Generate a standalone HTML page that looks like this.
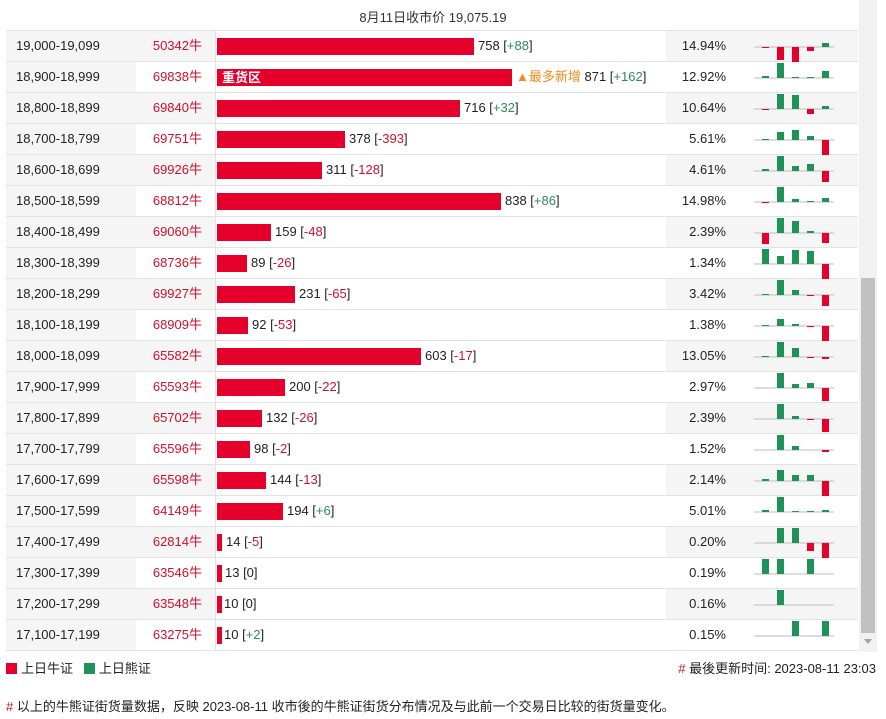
<!DOCTYPE html>
<html><head><meta charset="utf-8"><style>
*{margin:0;padding:0;box-sizing:border-box}
body{width:886px;height:719px;background:#fff;font-family:"Liberation Sans","Noto Sans CJK SC",sans-serif;font-size:13px;color:#222;position:relative;overflow:hidden}
.hdr{position:absolute;top:7px;left:0;width:866px;text-align:center;font-size:13px;color:#333}
.tbl{position:absolute;left:6px;top:30px;width:852px;border-top:1px solid #e3e3e3}
.r{position:relative;height:31px;border-bottom:1px solid #e3e3e3}
.r.o{background:#f5f5f5}
.rg{position:absolute;left:0;top:0;width:130px;height:30px;background:#f5f5f5;padding-left:10px;line-height:30px}
.ct{position:absolute;left:130px;top:0;width:66px;height:30px;text-align:right;line-height:30px;color:#d0102e}
.bc{position:absolute;left:209px;top:0;width:451px;height:30px;background:#fff;border-left:1px solid #e3e3e3}
.bar{position:absolute;left:1px;top:7px;height:17px;background:#e4002b;color:#fff;font-weight:bold;font-size:13px;line-height:17px;padding-left:5px}
.lb{position:absolute;top:0;line-height:30px;white-space:nowrap}
.g{color:#2e8b57}.d{color:#d0102e}
.pc{position:absolute;left:640px;width:80px;text-align:right;line-height:30px;top:0}
.r svg{position:absolute;left:748px;top:0;overflow:visible}
.sb{position:absolute;left:859px;top:0;width:18px;height:652px;background:#f1f1f1}
.th{position:absolute;left:861px;top:278px;width:14px;height:355px;background:#c1c1c1}
.ar{position:absolute;left:864px;top:639px;width:0;height:0;border-left:4px solid transparent;border-right:4px solid transparent;border-top:5px solid #a3a3a3}
.leg{position:absolute;top:658px;left:6px;font-size:13px}
.sq{display:inline-block;width:11px;height:11px;vertical-align:-1px;margin-right:4px}
.upd{position:absolute;top:658px;right:10px;font-size:13px}
.note{position:absolute;top:696px;left:6px;font-size:13px}
</style></head><body>
<div class="hdr">8月11日收市价 19,075.19</div>
<div class="sb"></div><div class="th"></div><div class="ar"></div>
<div class="tbl">
<div class="r o"><div class="rg">19,000-19,099</div><div class="ct">50342牛</div><div class="bc"><div class="bar" style="width:257px"></div><div class="lb" style="left:262px">758 [<span class="g">+88</span>]</div></div><div class="pc">14.94%</div>
<svg width="82" height="31"><line x1="0" y1="16" x2="80" y2="16" stroke="#bbb"/><rect x="8" y="16" width="7" height="1" fill="#e4002b"/><rect x="23" y="16" width="7" height="13" fill="#e4002b"/><rect x="38" y="16" width="7" height="15" fill="#e4002b"/><rect x="53" y="16" width="7" height="4" fill="#e4002b"/><rect x="68" y="12" width="7" height="4" fill="#1e9257"/></svg></div>
<div class="r"><div class="rg">18,900-18,999</div><div class="ct">69838牛</div><div class="bc"><div class="bar" style="width:295px">重货区</div><div class="lb" style="left:300px"><span style="color:#f08c1e">▲最多新增</span> 871 [<span class="g">+162</span>]</div></div><div class="pc">12.92%</div>
<svg width="82" height="31"><line x1="0" y1="16" x2="80" y2="16" stroke="#bbb"/><rect x="8" y="14" width="7" height="2" fill="#1e9257"/><rect x="23" y="1" width="7" height="15" fill="#1e9257"/><rect x="38" y="15" width="7" height="1" fill="#1e9257"/><rect x="53" y="15" width="7" height="1" fill="#1e9257"/><rect x="68" y="9" width="7" height="7" fill="#1e9257"/></svg></div>
<div class="r o"><div class="rg">18,800-18,899</div><div class="ct">69840牛</div><div class="bc"><div class="bar" style="width:243px"></div><div class="lb" style="left:248px">716 [<span class="g">+32</span>]</div></div><div class="pc">10.64%</div>
<svg width="82" height="31"><line x1="0" y1="16" x2="80" y2="16" stroke="#bbb"/><rect x="8" y="16" width="7" height="1" fill="#e4002b"/><rect x="23" y="1" width="7" height="15" fill="#1e9257"/><rect x="38" y="2" width="7" height="14" fill="#1e9257"/><rect x="53" y="16" width="7" height="5" fill="#e4002b"/><rect x="68" y="13" width="7" height="3" fill="#1e9257"/></svg></div>
<div class="r"><div class="rg">18,700-18,799</div><div class="ct">69751牛</div><div class="bc"><div class="bar" style="width:128px"></div><div class="lb" style="left:133px">378 [<span class="d">-393</span>]</div></div><div class="pc">5.61%</div>
<svg width="82" height="31"><line x1="0" y1="16" x2="80" y2="16" stroke="#bbb"/><rect x="8" y="15" width="7" height="1" fill="#1e9257"/><rect x="23" y="8" width="7" height="8" fill="#1e9257"/><rect x="38" y="6" width="7" height="10" fill="#1e9257"/><rect x="53" y="12" width="7" height="4" fill="#1e9257"/><rect x="68" y="16" width="7" height="15" fill="#e4002b"/></svg></div>
<div class="r o"><div class="rg">18,600-18,699</div><div class="ct">69926牛</div><div class="bc"><div class="bar" style="width:105px"></div><div class="lb" style="left:110px">311 [<span class="d">-128</span>]</div></div><div class="pc">4.61%</div>
<svg width="82" height="31"><line x1="0" y1="16" x2="80" y2="16" stroke="#bbb"/><rect x="8" y="14" width="7" height="2" fill="#1e9257"/><rect x="23" y="1" width="7" height="15" fill="#1e9257"/><rect x="38" y="11" width="7" height="5" fill="#1e9257"/><rect x="53" y="9" width="7" height="7" fill="#1e9257"/><rect x="68" y="16" width="7" height="11" fill="#e4002b"/></svg></div>
<div class="r"><div class="rg">18,500-18,599</div><div class="ct">68812牛</div><div class="bc"><div class="bar" style="width:284px"></div><div class="lb" style="left:289px">838 [<span class="g">+86</span>]</div></div><div class="pc">14.98%</div>
<svg width="82" height="31"><line x1="0" y1="16" x2="80" y2="16" stroke="#bbb"/><rect x="8" y="16" width="7" height="1" fill="#e4002b"/><rect x="23" y="1" width="7" height="15" fill="#1e9257"/><rect x="38" y="13" width="7" height="3" fill="#1e9257"/><rect x="53" y="15" width="7" height="1" fill="#1e9257"/><rect x="68" y="12" width="7" height="4" fill="#1e9257"/></svg></div>
<div class="r o"><div class="rg">18,400-18,499</div><div class="ct">69060牛</div><div class="bc"><div class="bar" style="width:54px"></div><div class="lb" style="left:59px">159 [<span class="d">-48</span>]</div></div><div class="pc">2.39%</div>
<svg width="82" height="31"><line x1="0" y1="16" x2="80" y2="16" stroke="#bbb"/><rect x="8" y="16" width="7" height="11" fill="#e4002b"/><rect x="23" y="1" width="7" height="15" fill="#1e9257"/><rect x="38" y="4" width="7" height="12" fill="#1e9257"/><rect x="53" y="14" width="7" height="2" fill="#1e9257"/><rect x="68" y="16" width="7" height="10" fill="#e4002b"/></svg></div>
<div class="r"><div class="rg">18,300-18,399</div><div class="ct">68736牛</div><div class="bc"><div class="bar" style="width:30px"></div><div class="lb" style="left:35px">89 [<span class="d">-26</span>]</div></div><div class="pc">1.34%</div>
<svg width="82" height="31"><line x1="0" y1="16" x2="80" y2="16" stroke="#bbb"/><rect x="8" y="1" width="7" height="15" fill="#1e9257"/><rect x="23" y="8" width="7" height="8" fill="#1e9257"/><rect x="38" y="2" width="7" height="14" fill="#1e9257"/><rect x="53" y="3" width="7" height="13" fill="#1e9257"/><rect x="68" y="16" width="7" height="15" fill="#e4002b"/></svg></div>
<div class="r o"><div class="rg">18,200-18,299</div><div class="ct">69927牛</div><div class="bc"><div class="bar" style="width:78px"></div><div class="lb" style="left:83px">231 [<span class="d">-65</span>]</div></div><div class="pc">3.42%</div>
<svg width="82" height="31"><line x1="0" y1="16" x2="80" y2="16" stroke="#bbb"/><rect x="8" y="15" width="7" height="1" fill="#1e9257"/><rect x="23" y="1" width="7" height="15" fill="#1e9257"/><rect x="38" y="11" width="7" height="5" fill="#1e9257"/><rect x="53" y="16" width="7" height="1" fill="#e4002b"/><rect x="68" y="16" width="7" height="11" fill="#e4002b"/></svg></div>
<div class="r"><div class="rg">18,100-18,199</div><div class="ct">68909牛</div><div class="bc"><div class="bar" style="width:31px"></div><div class="lb" style="left:36px">92 [<span class="d">-53</span>]</div></div><div class="pc">1.38%</div>
<svg width="82" height="31"><line x1="0" y1="16" x2="80" y2="16" stroke="#bbb"/><rect x="8" y="15" width="7" height="1" fill="#1e9257"/><rect x="23" y="9" width="7" height="7" fill="#1e9257"/><rect x="38" y="14" width="7" height="2" fill="#1e9257"/><rect x="53" y="16" width="7" height="1" fill="#e4002b"/><rect x="68" y="16" width="7" height="15" fill="#e4002b"/></svg></div>
<div class="r o"><div class="rg">18,000-18,099</div><div class="ct">65582牛</div><div class="bc"><div class="bar" style="width:204px"></div><div class="lb" style="left:209px">603 [<span class="d">-17</span>]</div></div><div class="pc">13.05%</div>
<svg width="82" height="31"><line x1="0" y1="16" x2="80" y2="16" stroke="#bbb"/><rect x="8" y="15" width="7" height="1" fill="#1e9257"/><rect x="23" y="1" width="7" height="15" fill="#1e9257"/><rect x="38" y="7" width="7" height="9" fill="#1e9257"/><rect x="53" y="16" width="7" height="1" fill="#e4002b"/><rect x="68" y="16" width="7" height="2" fill="#e4002b"/></svg></div>
<div class="r"><div class="rg">17,900-17,999</div><div class="ct">65593牛</div><div class="bc"><div class="bar" style="width:68px"></div><div class="lb" style="left:73px">200 [<span class="d">-22</span>]</div></div><div class="pc">2.97%</div>
<svg width="82" height="31"><line x1="0" y1="16" x2="80" y2="16" stroke="#bbb"/><rect x="23" y="1" width="7" height="15" fill="#1e9257"/><rect x="38" y="12" width="7" height="4" fill="#1e9257"/><rect x="53" y="11" width="7" height="5" fill="#1e9257"/><rect x="68" y="16" width="7" height="13" fill="#e4002b"/></svg></div>
<div class="r o"><div class="rg">17,800-17,899</div><div class="ct">65702牛</div><div class="bc"><div class="bar" style="width:45px"></div><div class="lb" style="left:50px">132 [<span class="d">-26</span>]</div></div><div class="pc">2.39%</div>
<svg width="82" height="31"><line x1="0" y1="16" x2="80" y2="16" stroke="#bbb"/><rect x="23" y="1" width="7" height="15" fill="#1e9257"/><rect x="38" y="13" width="7" height="3" fill="#1e9257"/><rect x="53" y="16" width="7" height="1" fill="#e4002b"/><rect x="68" y="16" width="7" height="13" fill="#e4002b"/></svg></div>
<div class="r"><div class="rg">17,700-17,799</div><div class="ct">65596牛</div><div class="bc"><div class="bar" style="width:33px"></div><div class="lb" style="left:38px">98 [<span class="d">-2</span>]</div></div><div class="pc">1.52%</div>
<svg width="82" height="31"><line x1="0" y1="16" x2="80" y2="16" stroke="#bbb"/><rect x="23" y="1" width="7" height="15" fill="#1e9257"/><rect x="38" y="12" width="7" height="4" fill="#1e9257"/><rect x="68" y="16" width="7" height="2" fill="#e4002b"/></svg></div>
<div class="r o"><div class="rg">17,600-17,699</div><div class="ct">65598牛</div><div class="bc"><div class="bar" style="width:49px"></div><div class="lb" style="left:54px">144 [<span class="d">-13</span>]</div></div><div class="pc">2.14%</div>
<svg width="82" height="31"><line x1="0" y1="16" x2="80" y2="16" stroke="#bbb"/><rect x="8" y="14" width="7" height="2" fill="#1e9257"/><rect x="23" y="5" width="7" height="11" fill="#1e9257"/><rect x="38" y="10" width="7" height="6" fill="#1e9257"/><rect x="53" y="10" width="7" height="6" fill="#1e9257"/><rect x="68" y="16" width="7" height="15" fill="#e4002b"/></svg></div>
<div class="r"><div class="rg">17,500-17,599</div><div class="ct">64149牛</div><div class="bc"><div class="bar" style="width:66px"></div><div class="lb" style="left:71px">194 [<span class="g">+6</span>]</div></div><div class="pc">5.01%</div>
<svg width="82" height="31"><line x1="0" y1="16" x2="80" y2="16" stroke="#bbb"/><rect x="8" y="14" width="7" height="2" fill="#1e9257"/><rect x="23" y="1" width="7" height="15" fill="#1e9257"/><rect x="38" y="15" width="7" height="1" fill="#1e9257"/><rect x="53" y="15" width="7" height="1" fill="#1e9257"/><rect x="68" y="14" width="7" height="2" fill="#1e9257"/></svg></div>
<div class="r o"><div class="rg">17,400-17,499</div><div class="ct">62814牛</div><div class="bc"><div class="bar" style="width:5px"></div><div class="lb" style="left:10px">14 [<span class="d">-5</span>]</div></div><div class="pc">0.20%</div>
<svg width="82" height="31"><line x1="0" y1="16" x2="80" y2="16" stroke="#bbb"/><rect x="23" y="1" width="7" height="15" fill="#1e9257"/><rect x="38" y="1" width="7" height="15" fill="#1e9257"/><rect x="53" y="16" width="7" height="8" fill="#e4002b"/><rect x="68" y="16" width="7" height="15" fill="#e4002b"/></svg></div>
<div class="r"><div class="rg">17,300-17,399</div><div class="ct">63546牛</div><div class="bc"><div class="bar" style="width:4px"></div><div class="lb" style="left:9px">13 [0]</div></div><div class="pc">0.19%</div>
<svg width="82" height="31"><line x1="0" y1="16" x2="80" y2="16" stroke="#bbb"/><rect x="8" y="1" width="7" height="15" fill="#1e9257"/><rect x="23" y="1" width="7" height="15" fill="#1e9257"/><rect x="53" y="1" width="7" height="15" fill="#1e9257"/></svg></div>
<div class="r o"><div class="rg">17,200-17,299</div><div class="ct">63548牛</div><div class="bc"><div class="bar" style="width:3px"></div><div class="lb" style="left:8px">10 [0]</div></div><div class="pc">0.16%</div>
<svg width="82" height="31"><line x1="0" y1="16" x2="80" y2="16" stroke="#bbb"/><rect x="23" y="1" width="7" height="15" fill="#1e9257"/></svg></div>
<div class="r"><div class="rg">17,100-17,199</div><div class="ct">63275牛</div><div class="bc"><div class="bar" style="width:3px"></div><div class="lb" style="left:8px">10 [<span class="g">+2</span>]</div></div><div class="pc">0.15%</div>
<svg width="82" height="31"><line x1="0" y1="16" x2="80" y2="16" stroke="#bbb"/><rect x="38" y="1" width="7" height="15" fill="#1e9257"/><rect x="68" y="1" width="7" height="15" fill="#1e9257"/></svg></div>
</div>
<div class="leg"><span class="sq" style="background:#e4002b"></span>上日牛证 &nbsp; <span class="sq" style="background:#1e9257"></span>上日熊证</div>
<div class="upd"><span style="color:#d0102e">#</span> 最後更新时间: 2023-08-11 23:03</div>
<div class="note"><span style="color:#d0102e">#</span> 以上的牛熊证街货量数据，反映 2023-08-11 收市後的牛熊证街货分布情况及与此前一个交易日比较的街货量变化。</div>
</body></html>
